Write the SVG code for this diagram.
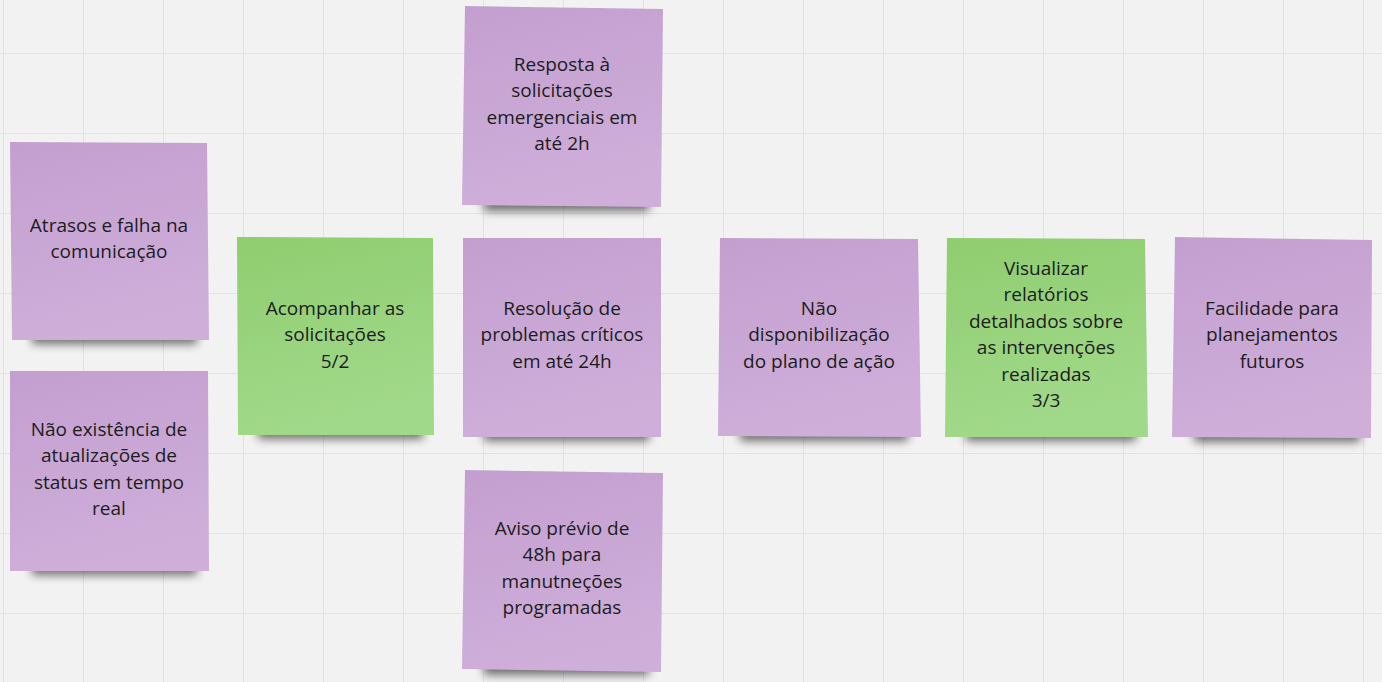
<svg xmlns="http://www.w3.org/2000/svg" width="1382" height="682" viewBox="0 0 1382 682">
<defs>
<pattern id="grid" x="3" y="53" width="80" height="80" patternUnits="userSpaceOnUse">
<path d="M0.5 0 V80 M0 0.5 H80" stroke="#e2e2e2" stroke-width="1.2" fill="none"/>
</pattern>
<linearGradient id="gp" x1="0" y1="0" x2="0.25" y2="1">
<stop offset="0" stop-color="#c39fcf"/>
<stop offset="1" stop-color="#cfaeda"/>
</linearGradient>
<linearGradient id="gg" x1="0" y1="0" x2="0.25" y2="1">
<stop offset="0" stop-color="#8fcd6f"/>
<stop offset="1" stop-color="#a1d98a"/>
</linearGradient>
<filter id="sh" x="-20%" y="-100%" width="140%" height="300%">
<feGaussianBlur stdDeviation="5"/>
</filter>
</defs>
<style>
.p{fill:url(#gp)}
.g{fill:url(#gg)}
.s{fill:#000;opacity:0.55;filter:url(#sh)}
text{font-family:"Open Sans","Noto Sans","DejaVu Sans",sans-serif;font-size:19px;fill:#1c1c1c;text-anchor:middle}
</style>
<rect width="1382" height="682" fill="#f2f2f2"/>
<rect width="1382" height="682" fill="url(#grid)"/>
<g id="connectors"></g>
<g id="shadows">
<rect class="s" x="32" y="328" width="165" height="16"/>
<rect class="s" x="32" y="559" width="165" height="16"/>
<rect class="s" x="258" y="423" width="165" height="16"/>
<rect class="s" x="484" y="195" width="165" height="16"/>
<rect class="s" x="484" y="425" width="165" height="16"/>
<rect class="s" x="484" y="659" width="165" height="16"/>
<rect class="s" x="740" y="425" width="168" height="16"/>
<rect class="s" x="966" y="425" width="170" height="16"/>
<rect class="s" x="1194" y="426" width="166" height="16"/>
</g>
<g id="n1">
<polygon class="p" points="10,142 207,143 209,340 12,340"/>
<text x="109" y="232"><tspan x="109">Atrasos e falha na</tspan><tspan x="109" dy="26.4">comunicação</tspan></text>
</g>
<g id="n2">
<polygon class="p" points="10,371 208,371 209,571 10,571"/>
<text x="109" y="436"><tspan x="109">Não existência de</tspan><tspan x="109" dy="26.4">atualizações de</tspan><tspan x="109" dy="26.4">status em tempo</tspan><tspan x="109" dy="26.4">real</tspan></text>
</g>
<g id="n3">
<polygon class="g" points="237,237 433,238 434,435 238,435"/>
<text x="335" y="315"><tspan x="335">Acompanhar as</tspan><tspan x="335" dy="26.4">solicitações</tspan><tspan x="335" dy="26.4">5/2</tspan></text>
</g>
<g id="n4">
<polygon class="p" points="465,6 663,9 661,207 462,205"/>
<text x="562" y="71"><tspan x="562">Resposta à</tspan><tspan x="562" dy="26.4">solicitações</tspan><tspan x="562" dy="26.4">emergenciais em</tspan><tspan x="562" dy="26.4">até 2h</tspan></text>
</g>
<g id="n5">
<polygon class="p" points="463,238 661,238 661,437 463,437"/>
<text x="562" y="315"><tspan x="562">Resolução de</tspan><tspan x="562" dy="26.4">problemas críticos</tspan><tspan x="562" dy="26.4">em até 24h</tspan></text>
</g>
<g id="n6">
<polygon class="p" points="465,470 663,473 661,672 462,669"/>
<text x="562" y="535"><tspan x="562">Aviso prévio de</tspan><tspan x="562" dy="26.4">48h para</tspan><tspan x="562" dy="26.4">manutneções</tspan><tspan x="562" dy="26.4">programadas</tspan></text>
</g>
<g id="n7">
<polygon class="p" points="720,238 918,239 921,437 718,436"/>
<text x="819" y="315"><tspan x="819">Não</tspan><tspan x="819" dy="26.4">disponibilização</tspan><tspan x="819" dy="26.4">do plano de ação</tspan></text>
</g>
<g id="n8">
<polygon class="g" points="947,238 1145,239 1148,437 945,437"/>
<text x="1046" y="275"><tspan x="1046">Visualizar</tspan><tspan x="1046" dy="26.4">relatórios</tspan><tspan x="1046" dy="26.4">detalhados sobre</tspan><tspan x="1046" dy="26.4">as intervenções</tspan><tspan x="1046" dy="26.4">realizadas</tspan><tspan x="1046" dy="26.4">3/3</tspan></text>
</g>
<g id="n9">
<polygon class="p" points="1175,237 1372,240 1371,438 1172,437"/>
<text x="1272" y="315"><tspan x="1272">Facilidade para</tspan><tspan x="1272" dy="26.4">planejamentos</tspan><tspan x="1272" dy="26.4">futuros</tspan></text>
</g>
</svg>
